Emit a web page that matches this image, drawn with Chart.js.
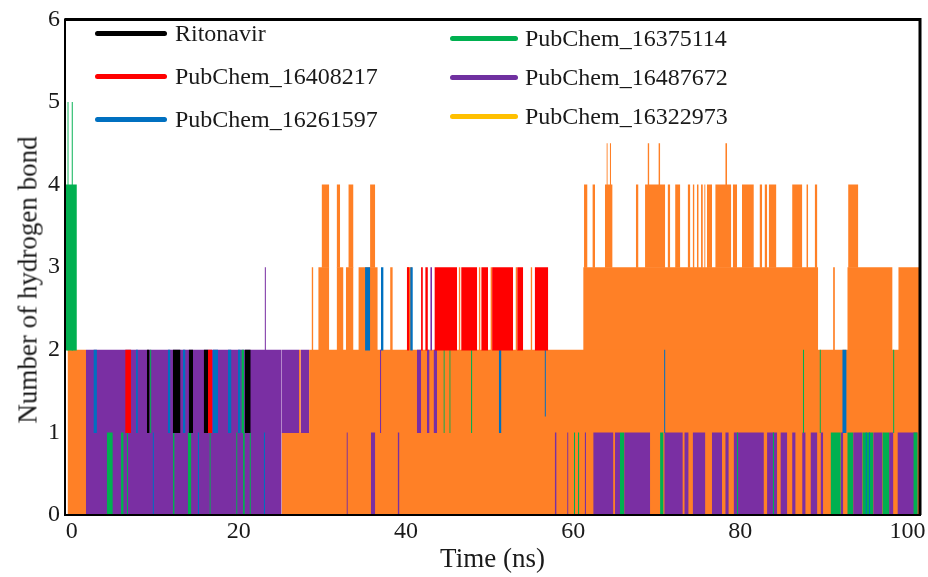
<!DOCTYPE html>
<html>
<head>
<meta charset="utf-8">
<title>Number of hydrogen bond</title>
<script src="https://cdn.jsdelivr.net/npm/chart.js@4.4.1/dist/chart.umd.min.js"></script>
<style>
  html, body { margin: 0; padding: 0; background: #fff; }
  .wrap { position: relative; width: 928px; height: 577px; }
  canvas { display: block; }
  .legend { position: absolute; font-family: "Liberation Serif", "Times New Roman", serif; font-size: 24px; color: #1a1a1a; }
  .legend .item { display: flex; align-items: center; white-space: nowrap; }
  .legend .swatch { height: 5px; border-radius: 3px; margin-right: 8px; }
  #legendA { left: 95px; top: 12px; }
  #legendA .item { height: 43px; }
  #legendA .swatch { width: 72px; }
  #legendB { left: 450px; top: 19px; }
  #legendB .item { height: 39px; }
  #legendB .swatch { width: 68px; margin-right: 7px; }
  .ytitle {
    position: absolute; left: 28px; top: 280px;
    transform: translate(-50%, -50%) rotate(-90deg);
    white-space: nowrap; color: #1a1a1a;
    font-family: "Liberation Serif", "Times New Roman", serif; font-size: 27px;
  }
</style>
</head>
<body>
<div class="wrap">
  <canvas id="hbondChart" width="928" height="577"></canvas>
  <div class="ytitle">Number of hydrogen bond</div>
  <div class="legend" id="legendA"></div>
  <div class="legend" id="legendB"></div>
</div>
<script>
// axis range and ticks (ns / count)
const TIME_MIN = -0.8;
const TIME_MAX = 101.5;
const xTicks = [0, 20, 40, 60, 80, 100];
const yTicks = [0, 1, 2, 3, 4, 5, 6];

const seriesNames = [
  "Ritonavir",
  "PubChem_16408217",
  "PubChem_16261597",
  "PubChem_16375114",
  "PubChem_16487672",
  "PubChem_16322973",
];

// each run: [start ns, end ns, low count, high count]
const ritonavir = [
  [9.0, 9.3, 1, 2], [12.1, 13.0, 1, 2], [14.0, 14.5, 1, 2], [15.8, 16.3, 1, 2], [20.7, 21.4, 1, 2],
];

const pc16408217 = [
  [6.4, 7.1, 1, 2], [16.3, 16.8, 1, 2],
  [40.1, 40.4, 2, 3], [41.8, 42.0, 2, 3], [42.3, 42.6, 2, 3], [43.4, 46.1, 2, 3], [46.6, 48.5, 2, 3],
  [49.0, 49.8, 2, 3], [50.3, 52.8, 2, 3], [53.3, 54.0, 2, 3], [55.4, 57.0, 2, 3],
];

const pc16261597 = [
  [2.6, 3.0, 1, 2], [7.7, 7.9, 1, 2], [11.5, 11.8, 1, 2], [13.3, 13.6, 1, 2], [16.9, 17.5, 1, 2],
  [18.7, 19.1, 1, 2], [19.9, 20.2, 1, 2],
  [9.7, 9.8, 0, 1], [15.1, 15.2, 0, 1], [23.0, 23.1, 0, 1],
  [35.1, 35.7, 2, 3], [37.0, 37.3, 2, 3], [40.5, 40.8, 2, 3],
  [51.1, 51.4, 1, 2], [56.6, 56.7, 1.2, 2], [70.9, 71.0, 1, 2], [92.2, 92.7, 1, 2],
  [95.0, 95.1, 0, 1], [95.4, 95.5, 0, 1],
];

const pc16375114 = [
  [-0.7, 0.6, 2, 4], [-0.5, -0.4, 2, 5], [0.0, 0.1, 2, 5],
  [4.2, 4.9, 0, 1], [5.9, 6.2, 0, 1], [6.6, 6.7, 0, 1], [12.1, 12.3, 0, 1], [13.9, 14.3, 0, 1],
  [16.5, 16.6, 0, 1], [19.7, 19.8, 0, 1], [20.5, 20.7, 0, 1], [21.3, 21.4, 0, 1],
  [9.4, 9.5, 1, 2], [20.3, 20.6, 1, 2],
  [44.5, 44.6, 1, 2], [45.2, 45.3, 1, 2], [47.8, 47.9, 1, 2],
  [60.1, 60.2, 0, 1], [60.6, 60.7, 0, 1],
  [87.5, 87.6, 1, 2], [89.5, 89.6, 1, 2], [98.3, 98.4, 1, 2],
  [65.6, 66.1, 0, 1], [70.4, 70.8, 0, 1], [79.6, 79.7, 0, 1], [83.9, 84.0, 0, 1], [90.8, 92.0, 0, 1],
  [92.8, 93.5, 0, 1], [94.6, 95.9, 0, 1], [97.0, 97.8, 0, 1], [100.7, 101.2, 0, 1],
];

const pc16487672 = [
  [-0.8, -0.7, 0, 2], [1.7, 25.1, 0, 2], [25.1, 27.2, 1, 2], [27.4, 28.4, 1, 2], [23.1, 23.2, 2, 3],
  [42.9, 43.1, 2, 3],
  [36.9, 37.0, 1, 2], [41.3, 41.8, 1, 2], [42.5, 42.8, 1, 2], [43.3, 43.7, 1, 2],
  [32.9, 33.0, 0, 1], [35.8, 36.3, 0, 1], [39.0, 39.2, 0, 1],
  [57.8, 58.0, 0, 1], [59.3, 59.4, 0, 1], [61.4, 61.5, 0, 1],
  [62.4, 64.8, 0, 1], [65.0, 65.6, 0, 1], [66.1, 69.2, 0, 1], [70.9, 73.1, 0, 1], [73.3, 73.8, 0, 1],
  [74.3, 75.8, 0, 1], [76.6, 77.8, 0, 1], [78.2, 78.6, 0, 1], [79.2, 82.8, 0, 1], [83.2, 84.4, 0, 1],
  [84.8, 85.6, 0, 1], [86.2, 86.6, 0, 1], [87.4, 87.8, 0, 1], [88.4, 89.2, 0, 1], [89.6, 89.9, 0, 1],
  [92.0, 92.3, 0, 1], [93.5, 94.6, 0, 1], [95.9, 97.0, 0, 1], [97.8, 98.3, 0, 1], [98.8, 101.2, 0, 1],
];

const pc16322973 = [
  [-0.5, 1.7, 0, 2], [25.1, 101.5, 0, 1], [27.2, 27.4, 1, 2], [28.4, 101.5, 1, 2],
  // 2 -> 3
  [28.7, 28.9, 2, 3], [29.5, 30.8, 2, 3], [31.7, 32.5, 2, 3], [32.8, 33.7, 2, 3], [34.3, 36.6, 2, 3],
  [38.1, 38.4, 2, 3], [40.1, 40.7, 2, 3], [46.3, 46.5, 2, 3], [48.7, 48.9, 2, 3], [50.1, 50.3, 2, 3],
  [53.1, 53.3, 2, 3], [54.9, 55.1, 2, 3], [61.2, 89.3, 2, 3], [91.1, 91.3, 2, 3], [92.8, 98.2, 2, 3],
  [98.9, 101.5, 2, 3],
  // 3 -> 4
  [29.9, 30.8, 3, 4], [31.7, 32.1, 3, 4], [33.1, 33.7, 3, 4], [35.7, 36.3, 3, 4],
  [61.3, 61.7, 3, 4], [62.3, 62.6, 3, 4], [63.8, 64.7, 3, 4], [67.5, 67.8, 3, 4], [68.6, 71.0, 3, 4],
  [71.3, 71.6, 3, 4], [72.2, 72.8, 3, 4], [73.7, 74.0, 3, 4], [74.3, 74.5, 3, 4], [74.8, 75.0, 3, 4],
  [75.3, 75.5, 3, 4], [75.7, 75.8, 3, 4], [76.0, 76.6, 3, 4], [77.0, 78.9, 3, 4], [79.1, 79.6, 3, 4],
  [80.2, 81.6, 3, 4], [82.3, 82.6, 3, 4], [82.9, 83.2, 3, 4], [83.4, 84.3, 3, 4], [86.2, 87.4, 3, 4],
  [87.9, 88.1, 3, 4], [88.9, 89.2, 3, 4], [92.9, 94.1, 3, 4],
  // 4 -> 4.5
  [64.0, 64.1, 4, 4.5], [64.4, 64.5, 4, 4.5], [68.9, 69.1, 4, 4.5], [70.2, 70.4, 4, 4.5], [78.2, 78.4, 4, 4.5],
];

const seriesRuns = [ritonavir, pc16408217, pc16261597, pc16375114, pc16487672, pc16322973];

const plotColors = ["#000000", "#ff0000", "#0070c0", "#00b050", "#7a2fa3", "#ff8026"];
const legendColors = ["#000000", "#ff0000", "#0070c0", "#00b050", "#7030a0", "#ffc000"];

// very short runs still need to show as a hairline
const MIN_RUN = 0.14;

// one filled span per run: flat top at `hi`, filled down to `lo`
function runDataset(run, color, name) {
  let [t0, t1, lo, hi] = run;
  if (t1 - t0 < MIN_RUN) {
    const mid = (t0 + t1) / 2;
    t0 = mid - MIN_RUN / 2;
    t1 = mid + MIN_RUN / 2;
  }
  return {
    label: name,
    data: [{ x: t0, y: hi }, { x: t1 + 0.02, y: hi }],
    borderColor: "rgba(0,0,0,0)",
    borderWidth: 1,
    backgroundColor: color,
    pointRadius: 0,
    tension: 0,
    fill: { value: lo - 0.008 },
  };
}

function buildLegend() {
  const cols = [document.getElementById("legendA"), document.getElementById("legendB")];
  seriesNames.forEach((name, i) => {
    const item = document.createElement("div");
    item.className = "item";
    item.innerHTML = `<span class="swatch" style="background:${legendColors[i]}"></span><span>${name}</span>`;
    cols[i < 3 ? 0 : 1].appendChild(item);
  });
}

const framePlugin = {
  id: "frame",
  afterDatasetsDraw(chart) {
    const { ctx, chartArea: a } = chart;
    ctx.save();
    ctx.strokeStyle = "#000";
    ctx.lineWidth = 2;
    ctx.strokeRect(a.left, a.top, a.right - a.left, a.bottom - a.top);
    ctx.lineWidth = 3;
    ctx.beginPath();
    ctx.moveTo(a.left, a.top);
    ctx.lineTo(a.right, a.top);
    ctx.lineTo(a.right, a.bottom);
    ctx.stroke();
    ctx.restore();
  },
};

Chart.defaults.font.family = '"Liberation Serif", "Times New Roman", serif';
Chart.defaults.color = "#1a1a1a";

// first dataset is painted last, so list the top layer (Ritonavir) first
const datasets = seriesRuns.flatMap((runs, i) => runs.map((run) => runDataset(run, plotColors[i], seriesNames[i])));

new Chart(document.getElementById("hbondChart"), {
  type: "line",
  data: { datasets },
  options: {
    responsive: false,
    animation: false,
    events: [],
    layout: { padding: { left: 0, top: 15, right: 8, bottom: 0 } },
    plugins: { legend: { display: false }, tooltip: { enabled: false } },
    scales: {
      x: {
        type: "linear",
        min: TIME_MIN,
        max: TIME_MAX,
        afterBuildTicks: (s) => { s.ticks = xTicks.map((v) => ({ value: v })); },
        afterFit: (s) => { s.height = 62; },
        grid: { display: false, drawTicks: false },
        border: { display: false },
        ticks: { font: { size: 24 }, padding: 2, maxRotation: 0, autoSkip: false },
        title: { display: true, text: "Time (ns)", font: { size: 27 }, padding: { top: 0, bottom: 1 } },
      },
      y: {
        min: 0,
        max: 6,
        afterBuildTicks: (s) => { s.ticks = yTicks.map((v) => ({ value: v })); },
        afterFit: (s) => { s.width = 65; },
        grid: { display: false, drawTicks: false },
        border: { display: false },
        ticks: { font: { size: 24 }, padding: 5 },
      },
    },
  },
  plugins: [framePlugin],
});

buildLegend();
</script>
</body>
</html>
